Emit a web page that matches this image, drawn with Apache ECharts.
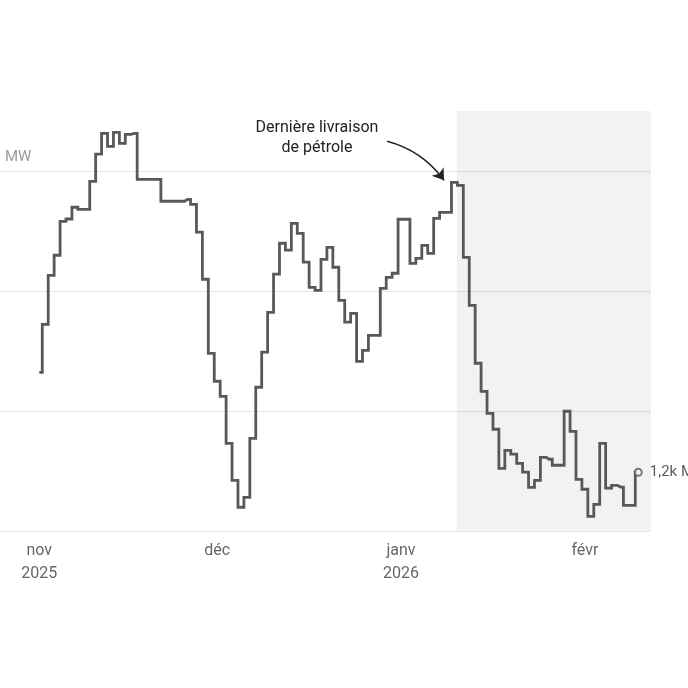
<!DOCTYPE html>
<html>
<head>
<meta charset="utf-8">
<script src="https://cdn.jsdelivr.net/npm/echarts@6/dist/echarts.min.js"></script>
<style>
  html, body { margin: 0; padding: 0; background: #fff; }
  #chart { width: 688px; height: 688px; }
</style>
</head>
<body>
<div id="chart"></div>
<script>
// daily output in MW, starting 1 nov 2025
const startDay = [2025, 10, 1];
const values = [
  1661, 1861, 2065, 2149, 2290, 2300, 2349, 2340, 2340, 2457,
  2570, 2657, 2603, 2661, 2615, 2653, 2657, 2465, 2465, 2465,
  2465, 2374, 2374, 2374, 2374, 2382, 2361, 2245, 2049, 1740,
  1624, 1561, 1365, 1211, 1099, 1140, 1386, 1599, 1745, 1911,
  2070, 2199, 2170, 2282, 2240, 2120, 2015, 2003, 2132, 2182,
  2099, 1961, 1870, 1907, 1707, 1753, 1815, 1815, 2011, 2057,
  2074, 2299, 2299, 2115, 2136, 2190, 2157, 2303, 2328, 2328,
  2453, 2440, 2140, 1940, 1699, 1582, 1490, 1424, 1261, 1336,
  1320, 1282, 1245, 1182, 1211, 1307, 1299, 1274, 1274, 1499,
  1415, 1215, 1174, 1061, 1111, 1365, 1179, 1190, 1183, 1107,
  1107, 1245
];
const monthNames = ['janv', 'févr', 'mars', 'avr', 'mai', 'juin', 'juil', 'août', 'sept', 'oct', 'nov', 'déc'];
const tickMonths = [[2025, 10], [2025, 11], [2026, 0], [2026, 1]];
const yTicks = [1000, 1500, 2000, 2500];
const annotationText = 'Dernière livraison\nde pétrole';
const unit = 'MW';
// arrow from the note to the last delivery (day, MW)
const arrowFrom = [58.63, 2624];
const arrowTo = [68.25, 2461];

// x axis runs in days since startDay
const DAY = 86400000;
const t0 = new Date(startDay[0], startDay[1], startDay[2]).getTime();
const toDay = (y, m, d) => Math.round((new Date(y, m, d).getTime() - t0) / DAY);
const seriesData = values.map((v, i) => [i, v]);
const last = seriesData[seriesData.length - 1];
const xMin = -6.63;
const xMax = 103.15;
const shadeStart = 70.4;
const monthTicks = tickMonths.map(m => toDay(m[0], m[1], 1));

const fmtK = v => (v / 1000).toFixed(1).replace('.', ',') + 'k';

const chart = echarts.init(document.getElementById('chart'));
chart.setOption({
  animation: false,
  textStyle: { fontFamily: 'Roboto' },
  grid: { left: 0, right: 37, top: 111, bottom: 157 },
  xAxis: {
    type: 'value',
    min: xMin,
    max: xMax,
    axisLine: { show: false },
    axisTick: { show: false },
    splitLine: { show: false },
    axisLabel: {
      customValues: monthTicks,
      formatter: function (val) {
        const d = new Date(startDay[0], startDay[1], startDay[2] + Math.round(val));
        const m = monthNames[d.getMonth()];
        return (d.getMonth() === 10 || d.getMonth() === 0) ? m + '\n' + d.getFullYear() : m;
      },
      color: '#666',
      fontSize: 16,
      lineHeight: 23,
      margin: 8
    }
  },
  yAxis: {
    type: 'value',
    min: yTicks[0],
    max: 2750,
    interval: 500,
    axisLine: { show: false },
    axisTick: { show: false },
    axisLabel: { show: false },
    splitLine: {
      lineStyle: { color: ['#e6e6e6', '#e6e6e6', '#e6e6e6', '#e6e6e6', 'rgba(0,0,0,0)'], width: 1 }
    }
  },
  graphic: [
    {
      type: 'text', x: 5, y: 150, silent: true,
      style: { text: unit, fill: '#9a9a9a', font: '15px Roboto' }
    },
    {
      type: 'text', x: 317, y: 118, silent: true,
      style: {
        text: annotationText, fill: '#222', font: '16px Roboto',
        lineHeight: 20, align: 'center', verticalAlign: 'top'
      }
    }
  ],
  series: [
    {
      type: 'line',
      step: 'middle',
      data: seriesData,
      showSymbol: false,
      silent: true,
      lineStyle: { color: '#585858', width: 2.8, join: 'miter' },
      z: 3,
      markArea: {
        silent: true,
        itemStyle: { color: 'rgba(0,0,0,0.05)' },
        data: [[{ xAxis: shadeStart }, { xAxis: xMax }]]
      }
    },
    {
      type: 'lines',
      coordinateSystem: 'cartesian2d',
      silent: true,
      z: 5,
      symbol: ['none', 'arrow'],
      symbolSize: 11,
      lineStyle: { color: '#222', width: 1.5, curveness: 0.18, opacity: 1 },
      data: [{ coords: [arrowFrom, arrowTo] }]
    },
    {
      type: 'scatter',
      data: [last],
      silent: true,
      symbol: 'circle',
      symbolSize: 7,
      z: 4,
      itemStyle: { color: '#fff', borderColor: '#585858', borderWidth: 2 },
      label: {
        show: true,
        position: 'right',
        distance: 7,
        formatter: p => fmtK(p.value[1]) + ' ' + unit,
        color: '#333',
        fontSize: 15,
        fontFamily: 'Roboto'
      }
    }
  ]
});
</script>
</body>
</html>
